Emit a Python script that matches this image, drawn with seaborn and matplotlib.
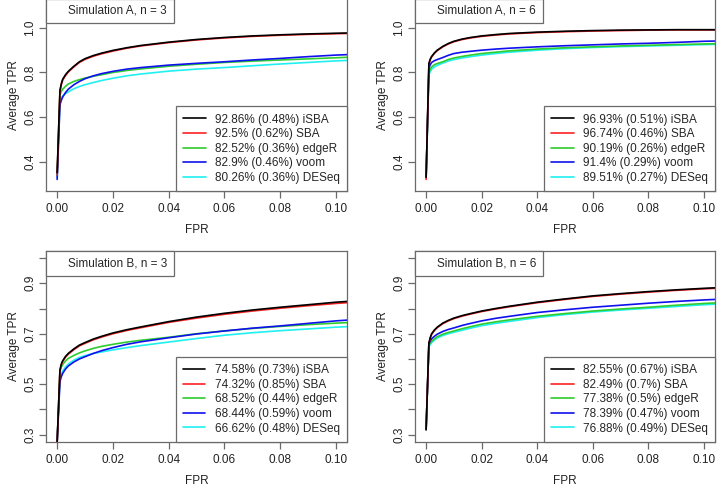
import matplotlib
matplotlib.use('Agg')
import matplotlib.pyplot as plt
import seaborn as sns
import pandas as pd
from matplotlib.lines import Line2D

sns.set_theme(style='ticks')
plt.rcParams['font.family'] = ['Liberation Sans', 'DejaVu Sans']

# ---- data ----
methods = ['iSBA', 'SBA', 'edgeR', 'voom', 'DESeq']
colors = ['black', '#ff2020', '#2ecc2e', '#1010ee', '#20f0f0']

fpr = [0.0, 0.001, 0.0015, 0.002, 0.003, 0.004, 0.006, 0.008, 0.01, 0.013, 0.016,
       0.02, 0.025, 0.03, 0.04, 0.05, 0.06, 0.07, 0.08, 0.09, 0.10, 0.104]

# Simulation A, n = 3
a3_isba = [0.35, 0.72, 0.75, 0.77, 0.79, 0.805, 0.828, 0.848, 0.862, 0.876, 0.887,
           0.899, 0.911, 0.921, 0.936, 0.948, 0.957, 0.964, 0.969, 0.973, 0.976, 0.977]
a3_sba = [0.34, 0.712, 0.745, 0.766, 0.786, 0.802, 0.825, 0.845, 0.859, 0.873, 0.884,
          0.896, 0.909, 0.919, 0.934, 0.946, 0.955, 0.962, 0.967, 0.971, 0.974, 0.975]
a3_edger = [0.34, 0.70, 0.715, 0.725, 0.738, 0.748, 0.76, 0.768, 0.775, 0.783, 0.79,
            0.80, 0.809, 0.816, 0.828, 0.837, 0.845, 0.851, 0.856, 0.861, 0.866, 0.868]
a3_voom = [0.32, 0.655, 0.675, 0.69, 0.71, 0.725, 0.745, 0.76, 0.772, 0.785, 0.795,
           0.805, 0.815, 0.822, 0.833, 0.841, 0.848, 0.856, 0.863, 0.871, 0.878, 0.880]
a3_deseq = [0.33, 0.672, 0.685, 0.695, 0.705, 0.713, 0.727, 0.737, 0.745, 0.755, 0.764,
            0.774, 0.785, 0.793, 0.806, 0.815, 0.822, 0.83, 0.838, 0.845, 0.852, 0.854]
a3_labels = ['92.86% (0.48%) iSBA', '92.5% (0.62%) SBA', '82.52% (0.36%) edgeR',
             '82.9% (0.46%) voom', '80.26% (0.36%) DESeq']

# Simulation A, n = 6
a6_isba = [0.33, 0.84, 0.86, 0.872, 0.888, 0.90, 0.917, 0.93, 0.94, 0.95, 0.957,
           0.964, 0.97, 0.975, 0.981, 0.985, 0.988, 0.990, 0.991, 0.992, 0.992, 0.992]
a6_sba = [0.32, 0.838, 0.858, 0.870, 0.886, 0.898, 0.915, 0.928, 0.938, 0.948, 0.955,
          0.962, 0.968, 0.973, 0.979, 0.983, 0.986, 0.988, 0.990, 0.991, 0.991, 0.991]
a6_edger = [0.33, 0.80, 0.815, 0.825, 0.835, 0.84, 0.848, 0.858, 0.865, 0.872, 0.878,
            0.885, 0.891, 0.897, 0.905, 0.911, 0.915, 0.919, 0.922, 0.925, 0.928, 0.929]
a6_voom = [0.33, 0.82, 0.835, 0.845, 0.853, 0.858, 0.867, 0.877, 0.885, 0.891, 0.895,
           0.90, 0.905, 0.909, 0.915, 0.92, 0.924, 0.928, 0.931, 0.935, 0.94, 0.941]
a6_deseq = [0.33, 0.79, 0.805, 0.815, 0.825, 0.832, 0.842, 0.851, 0.858, 0.865, 0.871,
            0.878, 0.885, 0.891, 0.90, 0.907, 0.912, 0.916, 0.919, 0.922, 0.925, 0.926]
a6_labels = ['96.93% (0.51%) iSBA', '96.74% (0.46%) SBA', '90.19% (0.26%) edgeR',
             '91.4% (0.29%) voom', '89.51% (0.27%) DESeq']

# Simulation B, n = 3
b3_isba = [0.27, 0.556, 0.58, 0.593, 0.61, 0.622, 0.64, 0.655, 0.665, 0.679, 0.69,
           0.703, 0.716, 0.727, 0.748, 0.766, 0.781, 0.794, 0.805, 0.815, 0.825, 0.828]
b3_sba = [0.27, 0.553, 0.577, 0.590, 0.607, 0.619, 0.637, 0.652, 0.662, 0.676, 0.687,
          0.700, 0.713, 0.724, 0.745, 0.762, 0.777, 0.790, 0.801, 0.811, 0.820, 0.823]
b3_edger = [0.27, 0.55, 0.568, 0.578, 0.592, 0.602, 0.614, 0.624, 0.632, 0.642, 0.65,
            0.658, 0.667, 0.674, 0.686, 0.70, 0.711, 0.721, 0.729, 0.736, 0.742, 0.744]
b3_voom = [0.27, 0.51, 0.53, 0.543, 0.56, 0.572, 0.588, 0.60, 0.609, 0.622, 0.633,
           0.645, 0.658, 0.668, 0.684, 0.699, 0.711, 0.722, 0.731, 0.741, 0.751, 0.754]
b3_deseq = [0.27, 0.525, 0.54, 0.552, 0.568, 0.58, 0.595, 0.606, 0.613, 0.622, 0.628,
            0.636, 0.645, 0.653, 0.667, 0.681, 0.694, 0.704, 0.712, 0.719, 0.726, 0.728]
b3_labels = ['74.58% (0.73%) iSBA', '74.32% (0.85%) SBA', '68.52% (0.44%) edgeR',
             '68.44% (0.59%) voom', '66.62% (0.48%) DESeq']

# Simulation B, n = 6
b6_isba = [0.32, 0.663, 0.685, 0.70, 0.715, 0.726, 0.742, 0.753, 0.762, 0.772, 0.78,
           0.79, 0.80, 0.809, 0.825, 0.838, 0.85, 0.859, 0.867, 0.874, 0.88, 0.882]
b6_sba = [0.32, 0.661, 0.683, 0.698, 0.713, 0.724, 0.740, 0.751, 0.760, 0.770, 0.778,
          0.788, 0.798, 0.807, 0.823, 0.836, 0.848, 0.857, 0.865, 0.872, 0.878, 0.880]
b6_edger = [0.32, 0.655, 0.663, 0.67, 0.68, 0.688, 0.698, 0.705, 0.711, 0.72, 0.728,
            0.738, 0.747, 0.755, 0.769, 0.78, 0.79, 0.798, 0.805, 0.813, 0.82, 0.822]
b6_voom = [0.32, 0.66, 0.672, 0.68, 0.69, 0.698, 0.709, 0.717, 0.723, 0.733, 0.741,
           0.751, 0.761, 0.769, 0.784, 0.795, 0.805, 0.813, 0.821, 0.828, 0.834, 0.836]
b6_deseq = [0.32, 0.65, 0.658, 0.665, 0.675, 0.683, 0.693, 0.70, 0.706, 0.714, 0.722,
            0.732, 0.741, 0.749, 0.764, 0.776, 0.786, 0.794, 0.801, 0.808, 0.815, 0.817]
b6_labels = ['82.55% (0.67%) iSBA', '82.49% (0.7%) SBA', '77.38% (0.5%) edgeR',
             '78.39% (0.47%) voom', '76.88% (0.49%) DESeq']

panels = [
    ('Simulation A, n = 3', [a3_isba, a3_sba, a3_edger, a3_voom, a3_deseq], a3_labels, 'A'),
    ('Simulation A, n = 6', [a6_isba, a6_sba, a6_edger, a6_voom, a6_deseq], a6_labels, 'A'),
    ('Simulation B, n = 3', [b3_isba, b3_sba, b3_edger, b3_voom, b3_deseq], b3_labels, 'B'),
    ('Simulation B, n = 6', [b6_isba, b6_sba, b6_edger, b6_voom, b6_deseq], b6_labels, 'B'),
]

# axes boxes in figure fractions (R-style base graphics layout)
W, H = 722, 498
boxes = [
    [46 / W, (H - 191) / H, 301 / W, 192.5 / H],
    [415 / W, (H - 191) / H, 300 / W, 192.5 / H],
    [46 / W, (H - 441.7) / H, 301 / W, 190.7 / H],
    [415 / W, (H - 441.7) / H, 300 / W, 190.7 / H],
]

edge = '#6a6a6a'
fs = 8.5

fig = plt.figure(figsize=(7.22, 4.98), dpi=100)

for (title, series, labels, sim), box in zip(panels, boxes):
    ax = fig.add_axes(box)
    # draw back to front so black ends up on top
    for i in [4, 2, 3, 1, 0]:
        d = pd.DataFrame({'FPR': fpr, 'TPR': series[i]})
        sns.lineplot(data=d, x='FPR', y='TPR', ax=ax, color=colors[i],
                     linewidth=1.2, legend=False, estimator=None, sort=False)

    ax.set_xlim(-0.004, 0.104)
    xt = [0.0, 0.02, 0.04, 0.06, 0.08, 0.10]
    ax.set_xticks(xt)
    ax.set_xticklabels(['%.2f' % v for v in xt])
    if sim == 'A':
        ax.set_ylim(0.268, 1.132)
        yt = [0.4, 0.6, 0.8, 1.0]
        ax.set_yticks(yt)
        ax.set_yticklabels(['%.1f' % v for v in yt])
    else:
        ax.set_ylim(0.272, 1.028)
        yt = [0.3, 0.4, 0.5, 0.6, 0.7, 0.8, 0.9, 1.0]
        ax.set_yticks(yt)
        ax.set_yticklabels(['%.1f' % v if k % 2 == 0 else '' for k, v in enumerate(yt)])

    for s in ax.spines.values():
        s.set_visible(True)
        s.set_color(edge)
        s.set_linewidth(0.9)
    ax.tick_params(axis='both', direction='out', length=5, width=0.9, color=edge,
                   labelsize=fs, labelcolor='#222222')
    ax.tick_params(axis='x', pad=4)
    ax.tick_params(axis='y', pad=2)
    for t in ax.get_yticklabels():
        t.set_rotation(90)
        t.set_va('center')

    ax.set_xlabel('FPR', fontsize=fs, color='#222222')
    ax.set_ylabel('Average TPR', fontsize=fs, color='#222222')
    ax.xaxis.label.set_va('center')
    ax.yaxis.label.set_va('center')
    ax.xaxis.set_label_coords(0.5, -39 / box[3] / H)
    ax.yaxis.set_label_coords(-32 / (box[2] * W), 0.5)

    handles = [Line2D([], [], color=c, linewidth=1.2) for c in colors]
    leg = ax.legend(handles, labels, loc='lower right', bbox_to_anchor=(1, 0),
                    borderaxespad=0, fontsize=fs, frameon=True, fancybox=False,
                    handlelength=1.9, handletextpad=0.8, labelspacing=0.22,
                    borderpad=0.6)
    leg.get_frame().set_edgecolor(edge)
    leg.get_frame().set_linewidth(0.9)
    leg.get_frame().set_alpha(1)
    ax.add_artist(leg)

    tleg = ax.legend([Line2D([], [], color='none')], [title], loc='upper left',
                     bbox_to_anchor=(0, 1), borderaxespad=0, fontsize=fs,
                     frameon=True, fancybox=False, handlelength=0.55,
                     handletextpad=0.8, borderpad=0.55)
    tleg.get_frame().set_edgecolor(edge)
    tleg.get_frame().set_linewidth(0.9)
    tleg.get_frame().set_alpha(1)

fig.savefig('out.png', dpi=100, facecolor='white')
